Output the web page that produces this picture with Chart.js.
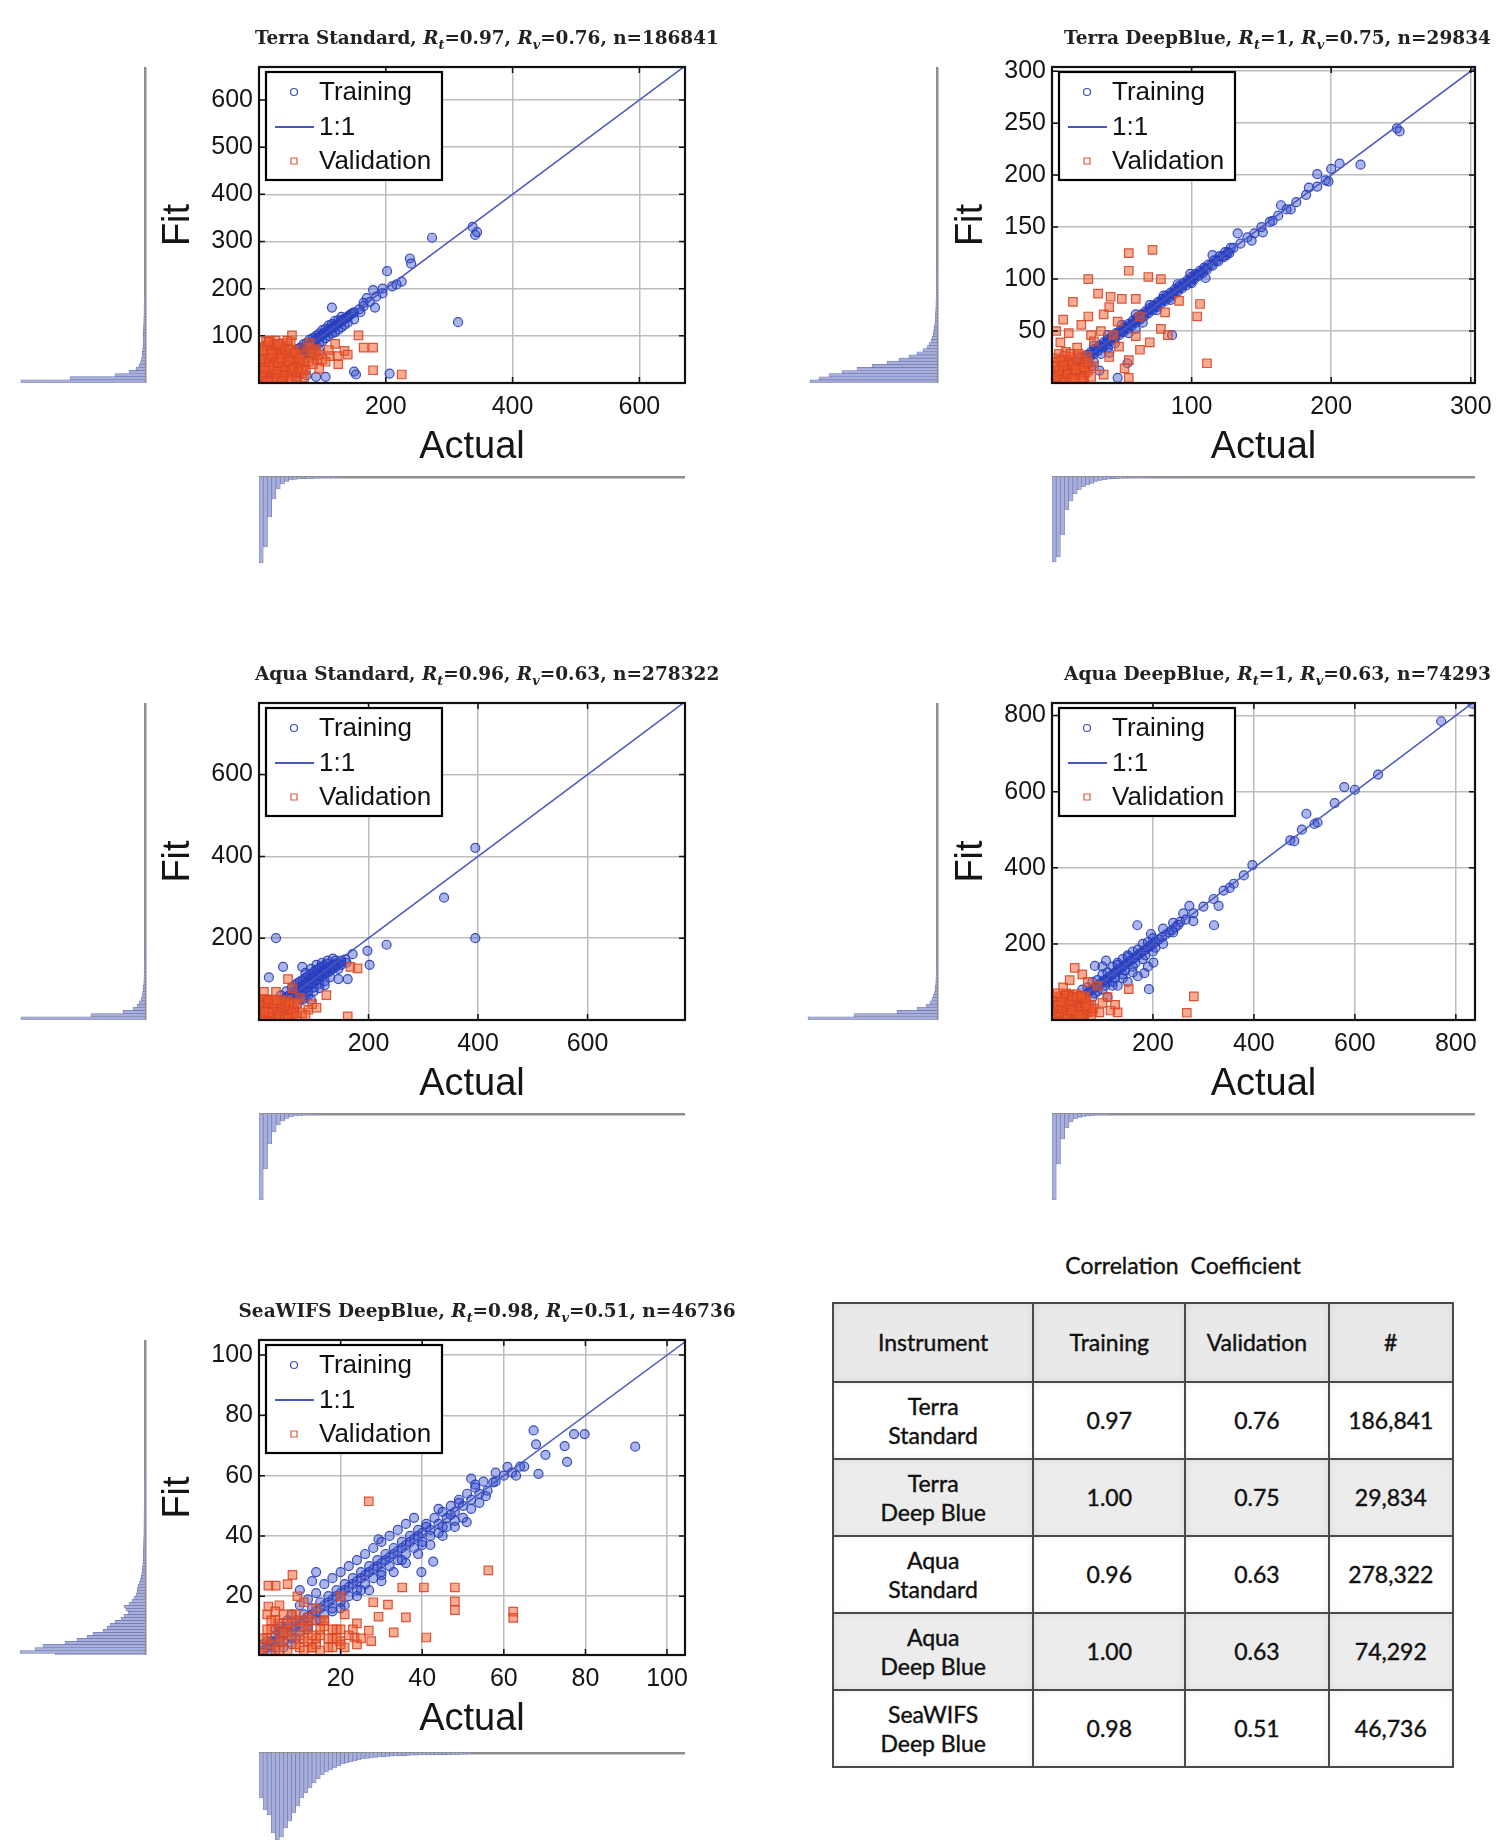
<!DOCTYPE html>
<html>
<head>
<meta charset="utf-8">
<script src="https://cdn.jsdelivr.net/npm/chart.js@4.4.1/dist/chart.umd.min.js"></script>
<style>
html, body { margin: 0; padding: 0; background: #fff; }
body { width: 1500px; height: 1843px; position: relative; overflow: hidden; }
canvas { position: absolute; }
#ccTitle { position: absolute; left: 1033px; top: 1251px; width: 300px; text-align: center;
  font-family: Lato, "Open Sans", sans-serif; font-size: 23px; color: #111; word-spacing: 6px;
  -webkit-text-stroke: 0.35px #111; }
#cc { position: absolute; left: 832px; top: 1302px; width: 622px; border-collapse: collapse;
  font-family: Lato, "Open Sans", sans-serif; font-size: 23px; color: #111; -webkit-text-stroke: 0.4px #111; }
#cc td { border: 2px solid #4a4a4a; text-align: center; padding: 0; line-height: 29px;
  box-shadow: inset 0 0 8px rgba(0,0,0,0.07); }
#cc tr.head td { height: 77px; background: #e9e9e9; }
#cc tr.body td { height: 75px; background: #fff; }
#cc tr.body.shade td { background: #ececec; }
</style>
</head>
<body>
<div id="ccTitle">Correlation Coefficient</div>
<table id="cc"></table>
<script>
// ---- titles ----
const panelNames = ['Terra Standard', 'Terra DeepBlue', 'Aqua Standard', 'Aqua DeepBlue', 'SeaWIFS DeepBlue'];
const titleRt = ['0.97', '1', '0.96', '1', '0.98'];
const titleRv = ['0.76', '0.75', '0.63', '0.63', '0.51'];
const titleN = ['186841', '29834', '278322', '74293', '46736'];

// ---- tick labels ----
const terraStdXTicks = [200, 400, 600], terraStdYTicks = [100, 200, 300, 400, 500, 600];
const terraDbXTicks = [100, 200, 300], terraDbYTicks = [50, 100, 150, 200, 250, 300];
const aquaStdXTicks = [200, 400, 600], aquaStdYTicks = [200, 400, 600];
const aquaDbXTicks = [200, 400, 600, 800], aquaDbYTicks = [200, 400, 600, 800];
const seaXTicks = [20, 40, 60, 80, 100], seaYTicks = [20, 40, 60, 80, 100];

// ---- scatter points [actual, fit] ----
const terraStdTrain = [[273,308],[337,331],[341,314],[344,320],[314,129],[238,264],[240,253],[202,237],[180,197],[195,190],
  [217,209],[183,160],[115,160],[150,24],[153,18],[206,20],[105,13],[90,13],[75,16],[225,215],[210,205],[195,200],[170,180],
  [5,6],[10,11],[15,16],[20,22],[25,27],[30,32],[35,37],[40,42],[45,47],[50,52],[55,57],[60,62],[65,67],[70,72],[75,77],
  [80,82],[85,87],[90,92],[95,97],[100,102],[105,107],[110,112],[115,117],[120,121],[125,126],[130,131],[135,136],[140,140],
  [145,146],[150,150],[158,156],[165,163],[175,172],[185,183],
  [40,50],[50,62],[60,72],[70,82],[80,92],[90,100],[100,112],[110,122],[120,132],[130,140],[60,50],[70,58],[80,70],[90,80],
  [100,88],[110,100],[120,108],[130,118],[140,128],[50,35],[45,25],[55,20],[60,10],[40,15],[35,5],[70,30],[65,45],[85,60],
  [95,70],[150,135],[160,150],[165,170],
  [12,14],[18,19],[22,25],[28,30],[32,35],[38,40],[42,45],[48,50],[52,55],[58,60],[62,65],[68,70],[72,75],[78,80],[82,85],
  [88,90],[92,95],[98,100],[102,105],[108,110],[112,115],[118,119],[122,124],[128,129],[132,134],[138,138],[142,143],
  [148,148],[55,65],[65,75],[75,85],[85,95],[95,105],[105,115],[115,125],[125,133],[65,55],[75,65],[85,75],[95,85],
  [105,95],[115,105],[125,113],[135,123]];
const terraStdVal = [[2,3],[4,8],[6,2],[8,14],[10,6],[12,20],[14,10],[16,28],[18,4],[20,16],[22,34],[24,24],[26,8],[28,40],
  [30,18],[32,30],[34,48],[36,12],[38,36],[40,24],[42,55],[44,42],[46,16],[48,30],[50,62],[52,48],[54,22],[56,38],[58,70],
  [60,54],[62,30],[64,44],[66,60],[68,20],[70,36],[3,40],[5,52],[7,64],[9,76],[11,88],[14,58],[18,68],[22,78],[26,90],[30,60],
  [34,72],[38,84],[42,66],[46,78],[50,88],[20,50],[24,60],[28,52],[32,14],[36,56],[40,64],[44,6],[48,54],[15,40],[10,30],
  [5,20],[3,28],[1,12],[12,45],[8,35],[25,45],[35,28],
  [1,20],[3,35],[5,45],[7,58],[9,68],[13,80],[17,90],[21,72],[25,82],[29,68],[33,78],[37,62],[41,74],[45,58],[49,70],[53,56],
  [57,64],[61,48],[65,52],[69,44],[2,50],[6,70],[19,62],[23,38],[27,24],[31,44],[35,52],[39,16],[43,34],[47,46],[51,26],
  [55,32],[59,14],[63,24],[67,30],[71,12],[16,34],[8,26],[4,14],[12,4],[20,2],[28,10],[36,4],[52,8],[60,4],[74,28],[78,45],
  [84,52],[88,65],[92,50],
  [52,101],[157,101],[120,83],[165,75],[180,75],[135,68],[112,57],[124,57],[180,27],[225,18],[15,87],[30,83],[45,90],[75,75],
  [90,72],[82,64],[95,60],[100,50],[105,45],[85,40],[110,70],[140,60],[125,40],[95,30],[80,85]];

const terraDbTrain = [[247,245],[249,242],[221,210],[206,211],[200,206],[190,201],[198,194],[184,188],[164,171],[171,167],
  [158,156],[151,145],[133,144],[143,137],[125,123],[115,123],[110,101],[86,46],[99,105],[41,29],[54,19],[34,12],[47,5],
  [2,2],[5,5],[8,8],[11,11],[14,14],[17,17],[20,20],[23,23],[26,26],[29,29],[32,32],[35,35],[38,38],[41,41],[44,44],[47,47],
  [50,50],[53,53],[56,56],[59,59],[62,62],[65,65],[68,68],[71,71],[74,74],[77,77],[80,80],[83,83],[86,86],[89,89],[92,92],
  [95,95],[98,98],[101,101],[104,104],[107,107],[110,110],[114,114],[118,118],[122,122],[126,126],[130,130],[135,134],
  [140,140],[145,144],[150,150],[156,155],[162,161],[168,167],[175,174],[182,181],[190,189],[196,195],
  [20,25],[30,36],[40,46],[50,56],[60,66],[70,75],[80,84],[90,95],[25,18],[35,28],[45,38],[55,48],[65,58],[75,70],[85,80],
  [100,96],[30,20],[40,34],[60,52],[15,8],[22,12],[28,16],
  [4,6],[7,9],[10,12],[13,15],[16,18],[19,21],[22,24],[25,27],[28,30],[31,33],[34,36],[37,39],[40,42],[43,45],[46,48],
  [49,51],[52,54],[55,57],[58,60],[61,63],[64,66],[67,69],[70,72],[73,75],[76,78],[79,81],[82,84],[85,87],[88,90],[91,93],
  [94,96],[97,99],[100,102],[103,105],[106,108],[109,111],[112,114],[116,118],[120,122],[124,126],[128,130],
  [6,4],[9,7],[12,10],[15,13],[18,16],[21,19],[24,22],[27,25],[30,28],[33,31],[36,34],[39,37],[42,40],[45,43],[48,46],
  [51,49],[54,52],[57,55],[60,58],[63,61],[66,64],[69,67],[72,70],[75,73],[78,76],[81,79],[84,82],[87,85],[90,88],[93,91],
  [96,94],[99,97],[102,100],[105,103],[108,106],[111,109],[115,113],[119,117],[123,121],[127,125]];
const terraDbVal = [[55,125],[72,128],[55,108],[26,100],[69,102],[78,100],[33,86],[15,78],[42,83],[50,81],[60,81],[41,73],
  [26,64],[37,66],[47,59],[63,64],[81,68],[106,76],[104,64],[91,79],[78,52],[83,46],[70,39],[63,32],[55,22],[52,14],[37,8],
  [55,5],[111,19],[8,61],[21,56],[6,39],[18,34],[28,46],[44,46],[41,25],[35,50],[30,40],[48,35],[60,45],[12,48],[3,50],
  [1,2],[2,6],[3,12],[4,18],[5,3],[6,9],[7,15],[8,22],[9,5],[10,12],[11,19],[12,2],[13,8],[14,25],[15,14],[16,20],[17,5],
  [18,11],[19,17],[20,8],[21,23],[22,14],[23,4],[24,19],[2,24],[5,28],[10,30],[4,8],[7,4],[12,16],[16,10],[26,12],[28,6],
  [30,16],[25,26],
  [1,10],[3,20],[6,16],[9,26],[12,22],[15,18],[18,24],[20,14],[22,2],[24,10],[3,6],[6,22],[9,1],[13,28],[17,13],[19,28],
  [21,5],[11,9],[14,4],[8,17],[5,12],[2,16],[16,4],[23,15],[26,20]];

const aquaStdTrain = [[395,421],[338,299],[395,200],[31,200],[233,184],[198,169],[202,135],[44,130],[79,130],[18,104],
  [145,100],[162,100],[171,161],[158,148],
  [10,12],[20,24],[30,34],[40,45],[50,56],[60,66],[70,76],[80,86],[90,95],[100,105],[110,114],[120,122],[130,130],[140,138],
  [150,145],[60,50],[70,60],[80,72],[90,82],[100,92],[110,104],[120,112],[130,120],[140,130],[70,90],[80,98],[90,108],
  [100,118],[110,126],[120,134],[60,80],[50,70],[40,60],[85,115],[95,125],[105,135],[115,140],[125,145],[135,150],[100,80],
  [110,88],[120,95],[130,105],[145,125],[150,135],[160,140],[90,60],[80,50],[70,40],[60,35],[50,40],[45,30],[35,25],[25,15],
  [35,40],[45,50],[55,60],[65,70],[75,80],[85,90],[95,100],[105,110],[115,118],[125,126],[135,134],[55,45],[65,55],[75,66],
  [85,77],[95,87],[105,98],[115,108],[125,116],[135,125],[65,85],[75,94],[85,103],[95,112],[105,122],[115,130],[125,138],
  [140,145],[30,28],[40,36],[50,48],[60,58],[70,68],[80,78],[90,88],[100,98],[110,108],[120,118],[130,126],[140,134],
  [150,140],[90,70],[100,70],[110,78],[120,85],[75,50],[85,55],[95,50],[55,30],[65,25],[40,20]];
const aquaStdVal = [[2,3],[5,8],[8,14],[11,20],[14,26],[17,32],[20,38],[23,44],[26,50],[4,20],[7,30],[10,40],[3,45],[30,5],
  [33,12],[36,18],[39,24],[42,30],[45,36],[48,42],[15,5],[20,10],[25,18],[30,25],[35,32],[40,40],[50,10],[55,20],[60,30],
  [52,48],[58,38],[44,4],[12,35],[28,36],[6,50],[18,48],[62,8],[65,18],
  [1,10],[3,25],[5,35],[7,45],[9,52],[13,12],[16,22],[19,30],[22,40],[25,48],[28,2],[31,15],[34,25],[37,38],[40,48],[43,20],
  [46,10],[49,28],[53,35],[56,42],[59,15],[62,25],[8,2],[11,28],[14,42],[17,50],[21,5],[24,30],[27,42],[32,48],[38,10],
  [47,2],[54,5],[64,40],[68,10],[1,38],[18,18],[9,20],
  [9,69],[53,100],[97,39],[123,61],[162,9],[167,130],[180,126],[79,17],[61,78],[31,69],[75,55],[90,25],[70,40],[105,30],[85,12]];

const aquaDbTrain = [[833,831],[771,785],[646,645],[579,612],[504,542],[495,500],[472,472],[526,519],[397,407],[352,347],
  [330,300],[321,249],[272,300],[254,258],[169,249],[196,226],[201,151],[192,81],[183,123],[85,142],[107,156],[480,470],
  [520,515],[560,570],[600,605],
  [10,10],[20,20],[30,30],[40,40],[50,50],[60,60],[70,70],[80,80],[90,90],[100,100],[110,110],[120,120],[130,130],[140,140],
  [150,150],[160,160],[170,170],[180,180],[190,190],[200,200],[212,212],[225,224],[238,236],[250,250],[265,264],[280,280],
  [300,298],[320,318],[340,340],[360,358],[380,380],
  [60,80],[80,100],[100,120],[120,140],[140,160],[160,180],[180,200],[200,215],[220,240],[240,255],[80,60],[100,80],
  [120,100],[140,120],[160,140],[180,160],[200,180],[220,200],[240,230],[110,60],[130,90],[150,100],[170,115],[190,140],
  [60,40],[40,20],[150,170],[130,150],[100,140],[260,280],[280,260],
  [15,15],[25,25],[35,35],[45,45],[55,55],[65,65],[75,75],[85,85],[95,95],[105,105],[115,115],[125,125],[135,135],
  [145,145],[155,155],[165,165],[175,175],[185,185],[195,195],[205,205],[218,218],[232,230],[245,244],[70,85],[90,105],
  [110,125],[130,145],[150,165],[170,185],[190,205],[85,70],[105,90],[125,110],[145,130],[165,150],[185,170],[205,190],
  [90,75],[110,100],[120,90],[140,110],[160,125],[50,60],[40,48],[30,38]];
const aquaDbVal = [[2,3],[6,10],[10,18],[14,26],[18,34],[22,42],[26,50],[30,58],[34,66],[5,30],[8,45],[12,55],[38,5],[42,14],
  [46,22],[50,30],[54,38],[58,46],[62,54],[66,62],[20,8],[26,16],[32,24],[38,32],[44,40],[50,48],[56,56],[70,20],[74,30],
  [78,40],[64,10],[16,60],[28,70],[40,60],[48,68],[60,35],[4,18],[10,5],
  [1,12],[3,24],[5,38],[7,50],[9,62],[11,70],[14,8],[17,20],[20,30],[23,46],[26,58],[29,66],[32,12],[35,42],[38,52],[41,62],
  [44,6],[47,18],[50,60],[53,22],[56,32],[59,4],[62,16],[65,44],[68,52],[71,28],[74,38],[77,10],[80,22],[24,2],[12,38],
  [18,48],[40,24],[30,2],[52,12],[58,64],[68,36],[82,30],
  [281,62],[267,19],[45,137],[152,81],[116,25],[94,20],[22,86],[71,100],[110,60],[125,40],[90,90],[100,45],[60,120],
  [35,105],[130,20]];

const seaTrain = [[67.3,75],[67.9,70.4],[74.9,69.8],[75.5,64.6],[77.2,73.8],[79.8,73.8],[92.2,69.6],[70.2,66.9],[68.5,60.6],
  [60.9,62.9],[57.4,57.8],[55.6,53.2],[50.9,44.6],[42.7,31.5],[39.8,28],[14,28],[29.3,38.9],[65,63],[63,60],[58,61],[53,56],
  [52,59],[49,51],[47,47],[45,43],[44,49],[41,44],
  [1,2],[2,3],[3,4],[4,5],[5,6],[6,7],[7,8],[8,9],[9,10],[10,11],[11,12],[12,13],[13,14],[14,15],[15,16],[16,17],[17,18],
  [18,19],[19,20],[20,21],[21,22],[22,23],[23,24],[24,25],[25,26],[26,27],[27,28],[28,29],[29,30],[30,31],[31,32],[32,33],
  [33,34],[34,35],[35,36],[36,37],[37,38],[38,39],[39,40],[40,41],[42,42],[44,44],[46,46],[48,48],[50,50],[52,52],[54,54],
  [56,55],[58,58],[60,60],[62,61],[64,63],
  [5,10],[8,14],[10,17],[12,19],[14,21],[16,24],[18,26],[20,28],[22,30],[24,32],[26,34],[28,36],[30,38],[32,40],[34,42],
  [36,44],[38,46],[6,3],[9,6],[12,9],[15,12],[18,15],[21,17],[24,20],[27,22],[30,25],[33,28],[36,31],[39,34],[42,37],
  [45,40],[48,43],[50,46],[52,49],[54,51],[4,9],[7,12],[20,16],[25,22],[30,28],[35,32],[40,37],[10,22],[13,25],[3,1],[8,4],
  [3,5],[5,8],[7,10],[9,12],[11,14],[13,16],[15,18],[17,20],[19,22],[21,24],[23,26],[25,28],[27,30],[29,32],[31,34],[33,36],
  [35,38],[37,40],[39,42],[41,43],[43,46],[45,48],[47,50],[49,52],[51,54],[53,57],[55,58],[4,3],[6,5],[8,6],[10,8],[12,10],
  [14,12],[16,14],[18,16],[20,18],[22,20],[24,22],[26,24],[28,26],[30,27],[32,30],[34,32],[36,34],[38,36],[40,38],[42,40],
  [44,41],[46,43],[48,45],[2,5],[4,7],[6,9],[1,4]];
const seaVal = [[26.9,51.5],[56.2,28.6],[4.1,23.5],[8.2,27.1],[2.3,23.5],[35.1,22.9],[40.4,22.9],[48,22.9],[48,18.3],
  [48,15.4],[62.3,14.9],[62.3,12.8],[41,6.3],[27.5,5.1],[29.3,13.2],[26.9,8.6],[31.6,17.2],[23.4,6.3],[19.9,5.1],[12.9,2.9],
  [9.4,20],[2.3,16.6],[4.7,10.9],[14,16],[16,12],[18,9],[21,14],[24,11],[11,18],[7,24],[5,17],[20,20],[33,8],[36,13],[28,18],
  [1,3],[2,6],[3,9],[4,12],[5,2],[6,5],[7,8],[8,11],[9,14],[10,3],[11,6],[12,9],[13,12],[14,4],[15,7],[16,10],[17,3],[18,6],
  [19,9],[20,4],[2,14],[3,4],[6,14],[10,12],[12,5],[15,2],[22,7],[24,4],[5,8],[8,7],
  [1,6],[2,9],[3,12],[4,2],[5,5],[6,8],[7,11],[8,14],[9,4],[10,7],[11,10],[12,13],[13,3],[14,6],[15,9],[16,12],[17,6],[18,3],
  [19,6],[20,9],[21,3],[23,9],[25,6],[1,1],[4,15],[7,2],[11,2],[13,7]];

// ---- marginal histograms (bar lengths per bin, from the low end) ----
const terraStdFitHist = [124,75,30,16,9,6,4.5,3.5,3,2.6,2.4,2.2,2,2,1.8,1.7,1.6,1.5,1.4,1.3,1.2,1.1,1,1,0.9,0.9,0.8,0.8];
const terraStdActHist = [86,70,40,22,12,7,4.5,3,2.4,2,1.7,1.5,1.3,1.1,1,0.9,0.8,0.7,0.6,0.5];
const terraDbFitHist = [127,118,108,95,80,65,50,38,28,20,14,10,8,6,5,4,3.5,3,2.5,2,1.8,1.6,1.5,1.3,1.2,1.1,1,0.9,0.8,0.8,
  0.7,0.7,0.6,0.6,0.6,0.5,0.5,0.5,0.5,0.5];
const terraDbActHist = [85,80,58,33,24,17,13,10,8,6.5,4.5,3.5,2.8,2.2,1.6,1.4,1.2,1,0.9,0.8,0.7,0.6,0.6,0.5,0.5,0.4,0.4,0.4,0.3,0.3];
const aquaStdFitHist = [124,54,22,12,8,5.5,4,3,2.4,2,1.6,1.3,1.1,1,0.9,0.8,0.7,0.6,0.5,0.5,0.4,0.4,0.4,0.4];
const aquaStdActHist = [86,55,30,18,11,7,4.5,3,2,1.5,1.1,0.8,0.6,0.5,0.4];
const aquaDbFitHist = [129,83,40,20,11,7,5,3.5,2.5,2,1.6,1.3,1.1,1,0.8,0.7,0.6,0.5,0.5,0.4];
const aquaDbActHist = [86,50,25,14,8,5,3.5,2.5,1.8,1.3,1,0.8,0.6,0.5,0.4];
const seaFitHist = [90,125,110,102,80,68,58,52,42,38,35,30,24,21,17,19,21,16,13,11,9,8,7.5,7,5.5,4.5,3.8,3.2,2.8,2.5,2.2,2,
  1.9,1.8,1.7,1.6,1.5,1.5,1.4,1.3,1.2,1.2,1.1,1.1,1,1,1,0.9,0.9,0.9,0.8,0.8,0.8,0.8,0.7,0.7,0.7,0.7,0.6,0.6,0.6,0.6];
const seaActHist = [45,57,62,80,87,84,75,68,60,53,45,40,35,30,26,22,19,17,15,13,11,10,9,8,7,6,5.5,5,4.5,4,3.8,3.5,3.2,3,2.8,
  2.6,2.4,2.2,2.1,2,2,1.9,1.8,1.8,1.7,1.6,1.5,1.4,1.3,1.2,1.1,1];

// ---- table ----
const tableHeader = ['Instrument', 'Training', 'Validation', '#'];
const tableInstruments = [['Terra', 'Standard'], ['Terra', 'Deep Blue'], ['Aqua', 'Standard'], ['Aqua', 'Deep Blue'], ['SeaWIFS', 'Deep Blue']];
const tableTraining = ['0.97', '1.00', '0.96', '1.00', '0.98'];
const tableValidation = ['0.76', '0.75', '0.63', '0.63', '0.51'];
const tableCount = ['186,841', '29,834', '278,322', '74,292', '46,736'];

const SANS = '"Liberation Sans", Arial, sans-serif';
const BLUE = 'rgba(38,60,185,0.9)', BLUE_FILL = 'rgba(45,70,200,0.4)';
const RED = 'rgba(216,70,40,0.9)', RED_FILL = 'rgba(242,92,40,0.5)';
const LINE = '#4a57c2';
const HIST_FILL = '#a9afdb', HIST_EDGE = '#7279b0', HIST_BASE = '#8e8e8e';

// layout of each panel (page pixels)
const panels = [
  { i: 0, train: terraStdTrain, val: terraStdVal, fitHist: terraStdFitHist, actHist: terraStdActHist, bin: 6.7,
    xMin: 0, xMax: 672, yMin: 0, yMax: 670, xTicks: terraStdXTicks, yTicks: terraStdYTicks,
    left: 259, top: 67, w: 426, h: 316, vBase: 145, hBase: 477, titleW: 464, titleDx: 15 },
  { i: 1, train: terraDbTrain, val: terraDbVal, fitHist: terraDbFitHist, actHist: terraDbActHist, bin: 3,
    xMin: 0, xMax: 303, yMin: 0, yMax: 304, xTicks: terraDbXTicks, yTicks: terraDbYTicks,
    left: 1052, top: 67, w: 423, h: 316, vBase: 937, hBase: 477, titleW: 427, titleDx: 14 },
  { i: 2, train: aquaStdTrain, val: aquaStdVal, fitHist: aquaStdFitHist, actHist: aquaStdActHist, bin: 7.8,
    xMin: 0, xMax: 778, yMin: 0, yMax: 775, xTicks: aquaStdXTicks, yTicks: aquaStdYTicks,
    left: 259, top: 703, w: 426, h: 317, vBase: 145, hBase: 1114, titleW: 464, titleDx: 15 },
  { i: 3, train: aquaDbTrain, val: aquaDbVal, fitHist: aquaDbFitHist, actHist: aquaDbActHist, bin: 8.4,
    xMin: 0, xMax: 838, yMin: 0, yMax: 833, xTicks: aquaDbXTicks, yTicks: aquaDbYTicks,
    left: 1052, top: 703, w: 423, h: 317, vBase: 937, hBase: 1114, titleW: 427, titleDx: 14 },
  { i: 4, train: seaTrain, val: seaVal, fitHist: seaFitHist, actHist: seaActHist, bin: 1,
    xMin: 0, xMax: 104.4, yMin: 0.5, yMax: 105, xTicks: seaXTicks, yTicks: seaYTicks,
    left: 259, top: 1340, w: 426, h: 315, vBase: 145, hBase: 1753, titleW: 497, titleDx: 15 }
];

function makeCanvas(left, top, w, h) {
  const c = document.createElement('canvas');
  c.width = w; c.height = h;
  c.style.left = left + 'px'; c.style.top = top + 'px';
  c.style.width = w + 'px'; c.style.height = h + 'px';
  document.body.appendChild(c);
  return c;
}

const toXY = arr => arr.map(p => ({ x: p[0], y: p[1] }));
const fixedTicks = list => scale => { scale.ticks = list.map(v => ({ value: v })); };

// title with italic R and subscripts
const titlePlugin = {
  id: 'panelTitle',
  afterDraw(chart, args, o) {
    const { ctx, chartArea: a } = chart;
    const fam = '"DejaVu Serif", "Liberation Serif", serif';
    const segs = [
      { t: o.name + ', ', s: 'bold' },
      { t: 'R', s: 'italic bold' }, { t: 't', s: 'italic bold', sub: true },
      { t: '=' + o.rt + ', ', s: 'bold' },
      { t: 'R', s: 'italic bold' }, { t: 'v', s: 'italic bold', sub: true },
      { t: '=' + o.rv + ', n=' + o.n, s: 'bold' }
    ];
    const fontOf = (g, size) => g.s + ' ' + (g.sub ? size * 0.7 : size).toFixed(1) + 'px ' + fam;
    ctx.save();
    let total = 0;
    segs.forEach(g => { ctx.font = fontOf(g, 18); total += ctx.measureText(g.t).width; });
    const size = 18 * o.width / total;
    let x = (a.left + a.right) / 2 + o.dx - o.width / 2;
    const y = a.top - 23;
    ctx.fillStyle = '#222';
    ctx.textBaseline = 'alphabetic';
    segs.forEach(g => {
      ctx.font = fontOf(g, size);
      ctx.fillText(g.t, x, g.sub ? y + size * 0.25 : y);
      x += ctx.measureText(g.t).width;
    });
    ctx.restore();
  }
};

// black axes box with inward tick marks
const boxPlugin = {
  id: 'plotBox',
  afterDatasetsDraw(chart) {
    const { ctx, chartArea: a, scales } = chart;
    ctx.save();
    ctx.strokeStyle = '#111';
    ctx.lineWidth = 1.5;
    ctx.beginPath();
    scales.x.ticks.forEach(t => {
      const px = scales.x.getPixelForValue(t.value);
      ctx.moveTo(px, a.bottom); ctx.lineTo(px, a.bottom - 6);
      ctx.moveTo(px, a.top); ctx.lineTo(px, a.top + 6);
    });
    scales.y.ticks.forEach(t => {
      const py = scales.y.getPixelForValue(t.value);
      ctx.moveTo(a.left, py); ctx.lineTo(a.left + 6, py);
      ctx.moveTo(a.right, py); ctx.lineTo(a.right - 6, py);
    });
    ctx.stroke();
    ctx.lineWidth = 2.2;
    ctx.strokeRect(a.left, a.top, a.right - a.left, a.bottom - a.top);
    ctx.restore();
  }
};

// boxed legend in the upper-left corner of the axes
const legendPlugin = {
  id: 'boxLegend',
  afterDatasetsDraw(chart) {
    const { ctx, chartArea: a } = chart;
    const x0 = a.left + 7, y0 = a.top + 5;
    ctx.save();
    ctx.fillStyle = '#fff';
    ctx.fillRect(x0, y0, 176, 108);
    ctx.strokeStyle = '#000';
    ctx.lineWidth = 2.2;
    ctx.strokeRect(x0, y0, 176, 108);
    const rows = ['Training', '1:1', 'Validation'];
    const offs = [20, 55, 89];
    rows.forEach((lab, k) => {
      const ds = chart.data.datasets.find(d => d.label === lab);
      const y = y0 + offs[k];
      ctx.strokeStyle = ds.borderColor;
      ctx.lineWidth = 1.2;
      ctx.beginPath();
      if (lab === '1:1') {
        ctx.lineWidth = 1.8;
        ctx.moveTo(x0 + 9, y); ctx.lineTo(x0 + 48, y);
      } else if (ds.pointStyle === 'rect') {
        ctx.rect(x0 + 25, y - 3, 6, 6);
      } else {
        ctx.arc(x0 + 28, y, 3.5, 0, Math.PI * 2);
      }
      ctx.stroke();
      ctx.fillStyle = '#111';
      ctx.font = '26px ' + SANS;
      ctx.textBaseline = 'middle';
      ctx.fillText(lab, x0 + 53, y + 1);
    });
    ctx.restore();
  }
};

function scatterPanel(p) {
  const padL = 115, padT = 50, padR = 60, padB = 90;
  const c = makeCanvas(p.left - padL, p.top - padT, p.w + padL + padR, p.h + padT + padB);
  const lineMax = Math.max(p.xMax, p.yMax);
  new Chart(c, {
    type: 'scatter',
    data: {
      datasets: [
        { label: 'Validation', data: toXY(p.val), pointStyle: 'rect', pointRadius: 6, borderWidth: 1.2,
          borderColor: RED, backgroundColor: RED_FILL, order: 0 },
        { label: '1:1', data: [{ x: 0, y: 0 }, { x: lineMax, y: lineMax }], showLine: true, pointRadius: 0,
          borderColor: LINE, borderWidth: 1.5, order: 1 },
        { label: 'Training', data: toXY(p.train), pointStyle: 'circle', pointRadius: 4.5, borderWidth: 1.2,
          borderColor: BLUE, backgroundColor: BLUE_FILL, order: 2 }
      ]
    },
    options: {
      responsive: false,
      animation: false,
      events: [],
      layout: { padding: { top: padT, right: padR, left: 0, bottom: 0 } },
      plugins: {
        legend: { display: false },
        tooltip: { enabled: false },
        panelTitle: { name: panelNames[p.i], rt: titleRt[p.i], rv: titleRv[p.i], n: titleN[p.i], width: p.titleW, dx: p.titleDx }
      },
      scales: {
        x: {
          type: 'linear', min: p.xMin, max: p.xMax,
          afterBuildTicks: fixedTicks(p.xTicks),
          afterFit: s => { s.height = padB; },
          grid: { color: '#bdbdbd', lineWidth: 1.5, drawTicks: false },
          border: { display: false },
          ticks: { autoSkip: false, maxRotation: 0, padding: 9, color: '#151515', font: { family: SANS, size: 25 } },
          title: { display: true, text: 'Actual', color: '#151515', font: { family: SANS, size: 38 },
            padding: { top: 0, bottom: 3 } }
        },
        y: {
          type: 'linear', min: p.yMin, max: p.yMax,
          afterBuildTicks: fixedTicks(p.yTicks),
          afterFit: s => { s.width = padL; },
          grid: { color: '#bdbdbd', lineWidth: 1.5, drawTicks: false },
          border: { display: false },
          ticks: { autoSkip: false, padding: 6, color: '#151515', font: { family: SANS, size: 25 } },
          title: { display: true, text: 'Fit', color: '#151515', font: { family: SANS, size: 38 },
            padding: { top: 12, bottom: 0 } }
        }
      }
    },
    plugins: [titlePlugin, boxPlugin, legendPlugin]
  });
}

// histogram of fitted values, bars growing leftwards from the baseline
function leftHist(p) {
  const w = 134;
  const c = makeCanvas(p.vBase - (w - 2), p.top, w, p.h);
  new Chart(c, {
    type: 'bar',
    data: {
      datasets: [{
        data: p.fitHist.map((v, k) => ({ y: (k + 0.5) * p.bin, x: v })),
        backgroundColor: HIST_FILL, borderColor: HIST_EDGE, borderWidth: 0.7,
        barPercentage: 1, categoryPercentage: 1
      }]
    },
    options: {
      indexAxis: 'y',
      responsive: false,
      animation: false,
      events: [],
      layout: { padding: 0 },
      plugins: { legend: { display: false }, tooltip: { enabled: false } },
      scales: {
        x: { display: false, reverse: true, min: 0, max: w - 2 },
        y: {
          type: 'linear', position: 'right', min: p.yMin, max: p.yMax, offset: false,
          afterBuildTicks: fixedTicks(p.yTicks),
          grid: { display: false, drawTicks: false },
          ticks: { display: false },
          border: { display: true, color: HIST_BASE, width: 2.5 },
          afterFit: s => { s.width = 2; }
        }
      }
    }
  });
}

// histogram of actual values, bars hanging below the baseline
function bottomHist(p) {
  const h = 92;
  const c = makeCanvas(p.left, p.hBase - 2, p.w, h);
  new Chart(c, {
    type: 'bar',
    data: {
      datasets: [{
        data: p.actHist.map((v, k) => ({ x: (k + 0.5) * p.bin, y: v })),
        backgroundColor: HIST_FILL, borderColor: HIST_EDGE, borderWidth: 0.7,
        barPercentage: 1, categoryPercentage: 1
      }]
    },
    options: {
      responsive: false,
      animation: false,
      events: [],
      layout: { padding: 0 },
      plugins: { legend: { display: false }, tooltip: { enabled: false } },
      scales: {
        x: {
          type: 'linear', position: 'top', min: p.xMin, max: p.xMax, offset: false,
          afterBuildTicks: fixedTicks(p.xTicks),
          grid: { display: false, drawTicks: false },
          ticks: { display: false },
          border: { display: true, color: HIST_BASE, width: 2.5 },
          afterFit: s => { s.height = 2; }
        },
        y: { display: false, reverse: true, min: 0, max: h - 2 }
      }
    }
  });
}

panels.forEach(p => {
  leftHist(p);
  bottomHist(p);
  scatterPanel(p);
});

// correlation table
let html = '<tr class="head">' + tableHeader.map(t => '<td>' + t + '</td>').join('') + '</tr>';
tableInstruments.forEach((name, k) => {
  html += '<tr class="body' + (k % 2 === 1 ? ' shade' : '') + '">' +
    '<td>' + name[0] + '<br>' + name[1] + '</td>' +
    '<td>' + tableTraining[k] + '</td>' +
    '<td>' + tableValidation[k] + '</td>' +
    '<td>' + tableCount[k] + '</td></tr>';
});
document.getElementById('cc').innerHTML = html;
const widths = [202, 153, 143, 124];
document.querySelectorAll('#cc tr.head td').forEach((td, k) => { td.style.width = widths[k] + 'px'; });
</script>
</body>
</html>
